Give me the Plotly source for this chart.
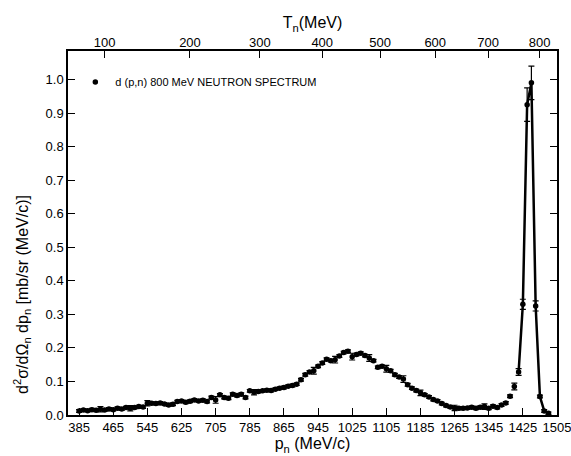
import numpy as np
import plotly.graph_objects as go

# momentum p_n (MeV/c)
p_n = [385, 395, 405, 415, 425, 435, 445, 455, 465, 475, 485, 495, 505, 515, 525, 535,
       545, 555, 565, 575, 585, 595, 605, 615, 625, 635, 645, 655, 665, 675, 685, 695,
       705, 715, 725, 735, 745, 755, 765, 775, 785, 795, 805, 815, 825, 835, 845, 855,
       865, 875, 885, 895, 905, 915, 925, 935, 945, 955, 965, 975, 985, 995, 1005, 1015,
       1025, 1035, 1045, 1055, 1065, 1075, 1085, 1095, 1105, 1115, 1125, 1135, 1145, 1155,
       1165, 1175, 1185, 1195, 1205, 1215, 1225, 1235, 1245, 1255, 1265, 1275, 1285, 1295,
       1305, 1315, 1325, 1335, 1345, 1355, 1365, 1375, 1385, 1395, 1405, 1415, 1425, 1435,
       1445, 1455, 1465, 1475, 1485]
# cross section d2sigma/dOmega dp (mb/sr (MeV/c))
sigma = [0.012, 0.015, 0.013, 0.016, 0.014, 0.017, 0.015, 0.018, 0.016, 0.020, 0.018, 0.022,
         0.020, 0.022, 0.025, 0.024, 0.035, 0.035, 0.034, 0.036, 0.033, 0.030, 0.032, 0.040,
         0.042, 0.038, 0.041, 0.045, 0.042, 0.044, 0.040, 0.052, 0.045, 0.060, 0.052, 0.050,
         0.062, 0.058, 0.062, 0.052, 0.072, 0.068, 0.070, 0.072, 0.074, 0.073, 0.077, 0.080,
         0.082, 0.086, 0.088, 0.092, 0.105, 0.120, 0.128, 0.132, 0.145, 0.155, 0.166, 0.162,
         0.165, 0.176, 0.186, 0.190, 0.174, 0.180, 0.184, 0.177, 0.170, 0.162, 0.142, 0.145,
         0.138, 0.132, 0.120, 0.113, 0.107, 0.090, 0.080, 0.073, 0.066, 0.060, 0.054, 0.046,
         0.042, 0.034, 0.028, 0.024, 0.021, 0.020, 0.020, 0.021, 0.023, 0.020, 0.023, 0.025,
         0.020, 0.026, 0.022, 0.030, 0.036, 0.056, 0.085, 0.128, 0.330, 0.925, 0.990, 0.325,
         0.055, 0.012, 0.005]
# errors
err = [0.004, 0.004, 0.004, 0.004, 0.004, 0.008, 0.004, 0.004, 0.004, 0.004, 0.004, 0.004,
       0.008, 0.004, 0.004, 0.004, 0.008, 0.004, 0.004, 0.004, 0.004, 0.004, 0.004, 0.004,
       0.004, 0.004, 0.004, 0.004, 0.004, 0.004, 0.004, 0.004, 0.010, 0.004, 0.004, 0.004,
       0.004, 0.004, 0.004, 0.004, 0.004, 0.008, 0.004, 0.004, 0.004, 0.004, 0.004, 0.004,
       0.004, 0.004, 0.004, 0.004, 0.004, 0.004, 0.004, 0.010, 0.004, 0.004, 0.004, 0.004,
       0.010, 0.004, 0.004, 0.004, 0.010, 0.004, 0.004, 0.004, 0.010, 0.004, 0.004, 0.004,
       0.010, 0.004, 0.004, 0.004, 0.010, 0.004, 0.004, 0.004, 0.008, 0.004, 0.004, 0.004,
       0.004, 0.004, 0.004, 0.004, 0.008, 0.004, 0.004, 0.004, 0.004, 0.004, 0.004, 0.008,
       0.004, 0.004, 0.004, 0.004, 0.004, 0.004, 0.010, 0.010, 0.015, 0.050, 0.050, 0.015,
       0.004, 0.004, 0.004]

# peak segment drawn as a line
peak_p = [1415, 1425, 1435, 1445, 1455, 1465, 1475, 1485]
peak_s = [0.128, 0.330, 0.925, 0.990, 0.325, 0.055, 0.012, 0.005]

# top axis: kinetic energy T_n (MeV)
T_ticks = [100, 200, 300, 400, 500, 600, 700, 800]
M_N = 939.57
T_pos = [float(np.sqrt((t + M_N) ** 2 - M_N ** 2)) for t in T_ticks]

p_ticks = [385, 465, 545, 625, 705, 785, 865, 945, 1025, 1105, 1185, 1265, 1345, 1425, 1505]
p_ticklabels = [str(v) for v in p_ticks]
y_ticks = [0.0, 0.1, 0.2, 0.3, 0.4, 0.5, 0.6, 0.7, 0.8, 0.9, 1.0]

XR = [359, 1505]
YR = [0, 1.085]
FONT = "Liberation Sans"

fig = go.Figure()
fig.add_trace(go.Scatter(
    x=peak_p, y=peak_s, mode="lines",
    line=dict(color="black", width=2.5), showlegend=False, hoverinfo="skip"))
fig.add_trace(go.Scatter(
    x=p_n, y=sigma, mode="markers",
    marker=dict(color="black", size=5.5),
    error_y=dict(type="data", array=err, color="black", thickness=1.2, width=3),
    name="d (p,n) 800 MeV NEUTRON SPECTRUM"))
# invisible trace on top axis
fig.add_trace(go.Scatter(x=[XR[0]], y=[0], xaxis="x2", mode="markers",
                         marker=dict(opacity=0), showlegend=False, hoverinfo="skip"))

tickfont = dict(family=FONT, size=13, color="black")
fig.update_layout(
    width=571, height=456,
    margin=dict(l=68, r=14, t=51, b=41, autoexpand=False),
    paper_bgcolor="white", plot_bgcolor="white",
    font=dict(family=FONT, color="black"),
    showlegend=True,
    legend=dict(x=0.015, y=0.915, xanchor="left", yanchor="middle",
                bgcolor="rgba(0,0,0,0)", font=dict(family=FONT, size=11, color="black"),
                itemwidth=30, tracegroupgap=0),
    xaxis=dict(range=XR, tickvals=p_ticks, ticktext=p_ticklabels, ticks="inside",
               ticklen=7, tickwidth=1.3, tickcolor="black", showline=True,
               linecolor="black", linewidth=1.5, mirror=True, showgrid=False,
               zeroline=False, tickfont=tickfont, tickangle=0, automargin=False,
               ticklabeloverflow="allow",
               title=dict(text="p<sub>n</sub> (MeV/c)", font=dict(family=FONT, size=16), standoff=2)),
    xaxis2=dict(range=XR, overlaying="x", side="top", tickvals=T_pos,
                ticktext=[str(t) for t in T_ticks], ticks="inside", ticklen=7,
                tickwidth=1.3, tickcolor="black", showgrid=False, zeroline=False,
                showline=False, tickfont=tickfont, tickangle=0, automargin=False,
                ticklabeloverflow="allow",
                title=dict(text="T<sub>n</sub>(MeV)", font=dict(family=FONT, size=16), standoff=2)),
    yaxis=dict(range=YR, tickvals=y_ticks, ticktext=[f"{v:.1f}" for v in y_ticks],
               ticks="inside", ticklen=7, tickwidth=1.3, tickcolor="black",
               showline=True, linecolor="black", linewidth=1.5, mirror="ticks",
               showgrid=False, zeroline=False, tickfont=tickfont, automargin=False),
    annotations=[dict(
        text="d<sup>2</sup>σ/dΩ<sub>n</sub> dp<sub>n</sub> [mb/sr (MeV/c)]",
        textangle=-90, xref="paper", yref="paper", x=-0.094, y=0.33,
        xanchor="center", yanchor="middle", showarrow=False,
        font=dict(family=FONT, size=16, color="black"))],
)

fig.write_html("out.html")
